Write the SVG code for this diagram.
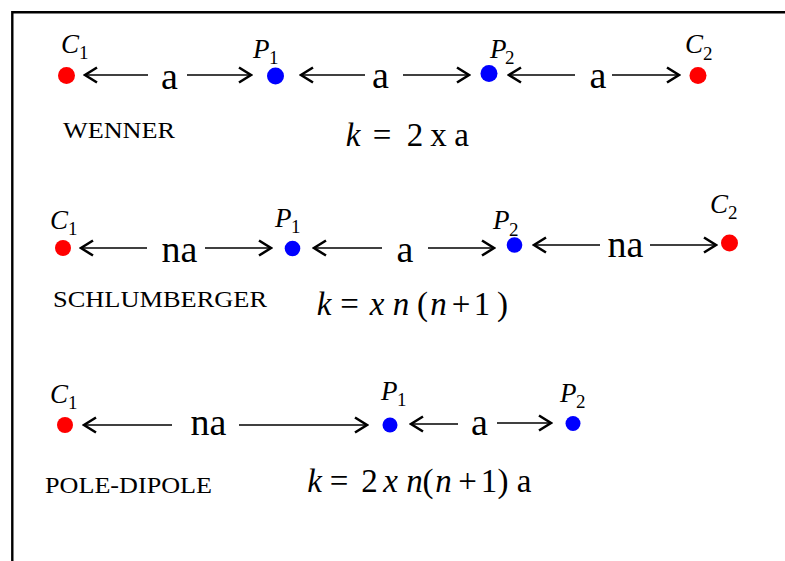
<svg xmlns="http://www.w3.org/2000/svg" width="785" height="561" viewBox="0 0 785 561">
<defs>
<style>
.lbl{font-family:"Liberation Serif",serif;font-size:38px;fill:#000;text-anchor:middle}
.name{font-family:"Liberation Serif",serif;font-size:23px;fill:#000}
.node{font-family:"Liberation Serif",serif;font-size:27px;fill:#000}
.node .v{font-style:italic}
.node .s{font-size:19px}
.fm{font-family:"Liberation Serif",serif;font-size:33px;fill:#000;text-anchor:middle}
.fm .i{font-style:italic}
.red{fill:#ff0000}
.blue{fill:#0000ff}
.conn line{stroke:#000;stroke-width:1.3;marker-end:url(#ah)}
</style>
<marker id="ah" markerUnits="userSpaceOnUse" viewBox="-16 -10 18 20" refX="0" refY="0" markerWidth="18" markerHeight="20" orient="auto">
<path d="M-12,-7.5 L0,0 L-12,7.5" fill="none" stroke="#000" stroke-width="2.6" stroke-linejoin="miter"/>
</marker>
</defs>
<rect width="785" height="561" fill="#fff"/>
<path d="M12.3,561 V12.3 H785" fill="none" stroke="#000" stroke-width="2.4"/>

<g id="connectors" class="conn">
<line x1="148" y1="75" x2="85" y2="75"/>
<line x1="187" y1="75" x2="251" y2="75"/>
<line x1="365" y1="75" x2="301" y2="75"/>
<line x1="403" y1="75" x2="469" y2="75"/>
<line x1="575" y1="75" x2="509" y2="75"/>
<line x1="612" y1="75" x2="679" y2="75"/>

<line x1="147" y1="248" x2="81" y2="248"/>
<line x1="205" y1="248" x2="271" y2="248"/>
<line x1="382" y1="248" x2="314" y2="248"/>
<line x1="428" y1="248" x2="494" y2="248"/>
<line x1="600" y1="245" x2="534" y2="245"/>
<line x1="650" y1="245" x2="716" y2="245"/>

<line x1="172" y1="425" x2="84" y2="425"/>
<line x1="239" y1="425" x2="367" y2="425"/>
<line x1="458" y1="424" x2="411" y2="424"/>
<line x1="497" y1="423" x2="551" y2="423"/>
</g>

<g id="connector-labels">
<text class="lbl" x="169.5" y="89">a</text>
<text class="lbl" x="380.5" y="88">a</text>
<text class="lbl" x="598" y="88">a</text>
<text class="lbl" x="179.5" y="262">na</text>
<text class="lbl" x="405" y="262">a</text>
<text class="lbl" x="625.5" y="257">na</text>
<text class="lbl" x="208.5" y="435">na</text>
<text class="lbl" x="479.5" y="435">a</text>
</g>

<!-- Wenner -->
<g id="wenner-C1">
<circle class="red" cx="66.5" cy="75.5" r="8.5"/>
<text class="node" x="61" y="53"><tspan class="v">C</tspan><tspan class="s" x="79" y="59">1</tspan></text>
</g>
<g id="wenner-P1">
<circle class="blue" cx="275.5" cy="76" r="8.5"/>
<text class="node" x="253" y="58"><tspan class="v">P</tspan><tspan class="s" x="269" y="64">1</tspan></text>
</g>
<g id="wenner-P2">
<circle class="blue" cx="489" cy="73.5" r="8.5"/>
<text class="node" x="490" y="58"><tspan class="v">P</tspan><tspan class="s" x="505" y="64">2</tspan></text>
</g>
<g id="wenner-C2">
<circle class="red" cx="698" cy="75.5" r="8.5"/>
<text class="node" x="685" y="53"><tspan class="v">C</tspan><tspan class="s" x="703" y="60">2</tspan></text>
</g>
<g id="wenner-title">
<text class="name" x="63" y="138" textLength="112" lengthAdjust="spacingAndGlyphs">WENNER</text>
<text class="fm" y="146"><tspan class="i" x="353">k</tspan><tspan x="382">=</tspan><tspan x="415">2</tspan><tspan x="438.5">x</tspan><tspan x="461.5">a</tspan></text>
</g>

<!-- Schlumberger -->
<g id="schlumberger-C1">
<circle class="red" cx="63" cy="248" r="8"/>
<text class="node" x="50" y="229"><tspan class="v">C</tspan><tspan class="s" x="68" y="235">1</tspan></text>
</g>
<g id="schlumberger-P1">
<circle class="blue" cx="292.5" cy="248.5" r="7.8"/>
<text class="node" x="275" y="227"><tspan class="v">P</tspan><tspan class="s" x="291" y="233">1</tspan></text>
</g>
<g id="schlumberger-P2">
<circle class="blue" cx="514.5" cy="245" r="7.8"/>
<text class="node" x="493" y="229"><tspan class="v">P</tspan><tspan class="s" x="509" y="236">2</tspan></text>
</g>
<g id="schlumberger-C2">
<circle class="red" cx="729.5" cy="243" r="8.5"/>
<text class="node" x="710" y="213"><tspan class="v">C</tspan><tspan class="s" x="728" y="219">2</tspan></text>
</g>
<g id="schlumberger-title">
<text class="name" x="53" y="307" textLength="214" lengthAdjust="spacingAndGlyphs">SCHLUMBERGER</text>
<text class="fm" y="315"><tspan class="i" x="324">k</tspan><tspan x="349.5">=</tspan><tspan class="i" x="377">x</tspan><tspan class="i" x="401">n</tspan><tspan x="422.5">(</tspan><tspan class="i" x="438.5">n</tspan><tspan x="461">+</tspan><tspan x="482">1</tspan><tspan x="502.5">)</tspan></text>
</g>

<!-- Pole-dipole -->
<g id="poledipole-C1">
<circle class="red" cx="65" cy="425" r="8"/>
<text class="node" x="50" y="403"><tspan class="v">C</tspan><tspan class="s" x="68" y="409">1</tspan></text>
</g>
<g id="poledipole-P1">
<circle class="blue" cx="390" cy="425" r="7.5"/>
<text class="node" x="381" y="400"><tspan class="v">P</tspan><tspan class="s" x="397" y="406">1</tspan></text>
</g>
<g id="poledipole-P2">
<circle class="blue" cx="573" cy="423.5" r="7.5"/>
<text class="node" x="560" y="402"><tspan class="v">P</tspan><tspan class="s" x="576" y="408">2</tspan></text>
</g>
<g id="poledipole-title">
<text class="name" x="45" y="493" textLength="167" lengthAdjust="spacingAndGlyphs">POLE-DIPOLE</text>
<text class="fm" y="492"><tspan class="i" x="314.5">k</tspan><tspan x="339">=</tspan><tspan x="369.5">2</tspan><tspan class="i" x="390.5">x</tspan><tspan class="i" x="414.5">n</tspan><tspan x="428">(</tspan><tspan class="i" x="443.5">n</tspan><tspan x="467.5">+</tspan><tspan x="489">1</tspan><tspan x="503">)</tspan><tspan x="524">a</tspan></text>
</g>
</svg>
